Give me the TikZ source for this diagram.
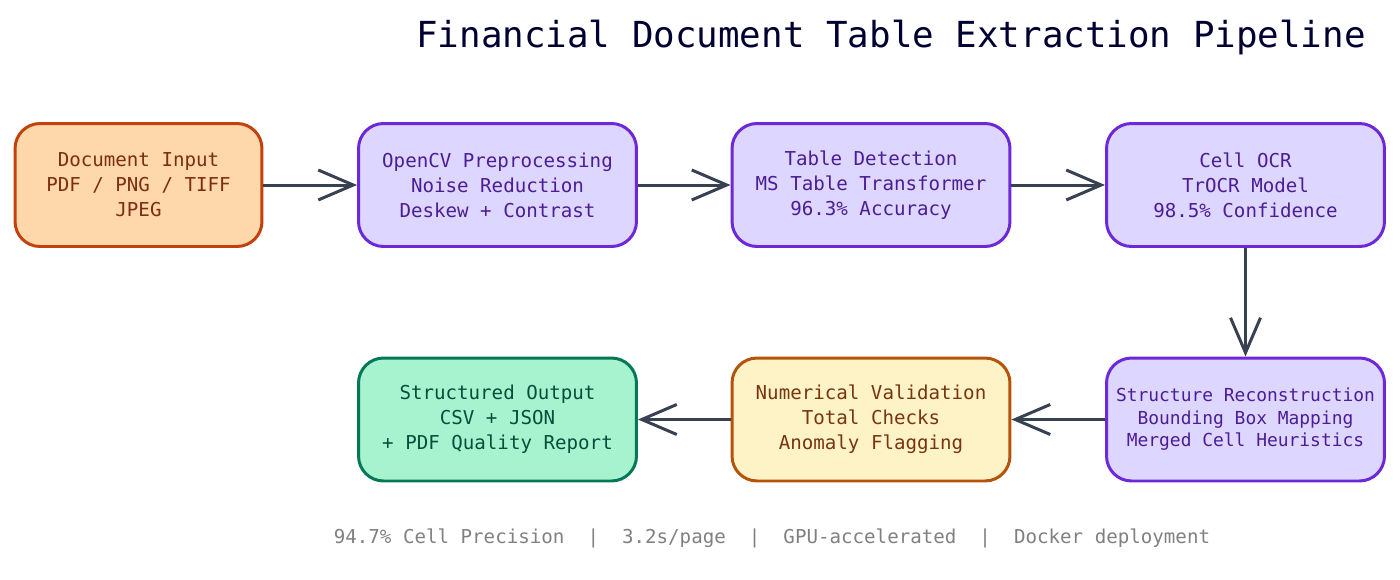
\documentclass[tikz,border=0pt]{standalone}
\usepackage{fontspec}
\setmainfont{DejaVu Sans Mono}
\usetikzlibrary{arrows.meta, positioning}
\definecolor{inFill}{HTML}{FED7AA}\definecolor{inLine}{HTML}{C2410C}\definecolor{inText}{HTML}{7C2D12}
\definecolor{prFill}{HTML}{DDD6FE}\definecolor{prLine}{HTML}{6D28D9}\definecolor{prText}{HTML}{4C1D95}
\definecolor{vaFill}{HTML}{FEF3C7}\definecolor{vaLine}{HTML}{B45309}\definecolor{vaText}{HTML}{78350F}
\definecolor{ouFill}{HTML}{A7F3D0}\definecolor{ouLine}{HTML}{047857}\definecolor{ouText}{HTML}{064E3B}
\definecolor{arrowGray}{HTML}{374151}
\begin{document}
\begin{tikzpicture}[x=0.02cm, y=-0.02cm, font=\fontsize{10.9}{14.2}\selectfont, part/.style={
        rectangle,
        rounded corners=0.5cm,
        align=center,
        line width=1.7pt,
        minimum height=2.46cm
    }, input/.style={part, draw=inLine, fill=inFill, text=inText, minimum width=4.94cm
    }, proc/.style={part, draw=prLine, fill=prFill, text=prText, minimum width=5.56cm
    }, check/.style={part, draw=vaLine, fill=vaFill, text=vaText, minimum width=5.56cm
    }, result/.style={part, draw=ouLine, fill=ouFill, text=ouText, minimum width=5.56cm
    }, arrow/.style={
        line width=1.7pt, draw=arrowGray, -{Straight Barb[length=7mm, width=6mm]}
    }]
    \useasboundingbox (0,0) rectangle (1400,579);
    \node (title) [anchor=east, text=black!80!blue, font=\fontsize{20.4}{24}\selectfont] at (1372,38) {Financial Document Table Extraction Pipeline};
    \node (docin) [input] at (138.5,185) {Document Input\\PDF / PNG / TIFF\\JPEG};
    \node (prep) [proc] at (497.5,185) {OpenCV Preprocessing\\Noise Reduction\\Deskew + Contrast};
    \node (detect) [proc] at (871,185) {Table Detection\\MS Table Transformer\\96.3\% Accuracy};
    \node (ocr) [proc] at (1245.5,185) {Cell OCR\\TrOCR Model\\98.5\% Confidence};
    \node (struct) [proc, font=\fontsize{10.2}{12.8}\selectfont] at (1245.5,419.5) {Structure Reconstruction\\Bounding Box Mapping\\Merged Cell Heuristics};
    \node (valid) [check] at (871,419.5) {Numerical Validation\\Total Checks\\Anomaly Flagging};
    \node (output) [result] at (497.5,419.5) {Structured Output\\CSV + JSON\\+ PDF Quality Report};
    \node (footer) [text=gray] at (772,538) {94.7\% Cell Precision~~|~~3.2s/page~~|~~GPU-accelerated~~|~~Docker deployment};
    \draw [arrow] (docin) -- (prep);
    \draw [arrow] (prep) -- (detect);
    \draw [arrow] (detect) -- (ocr);
    \draw [arrow] (ocr) -- (struct);
    \draw [arrow] (struct) -- (valid);
    \draw [arrow] (valid) -- (output);
\end{tikzpicture}
\end{document}
